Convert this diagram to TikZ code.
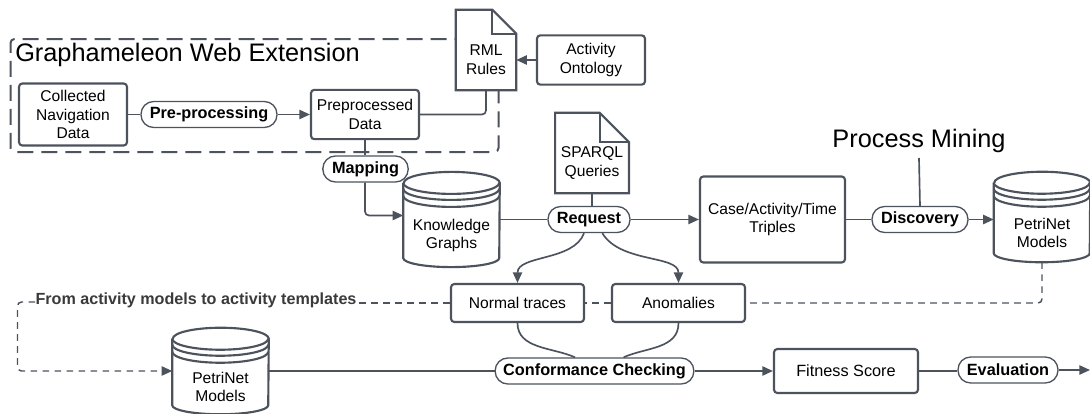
\documentclass[tikz,border=0pt]{standalone}
\usepackage{fontspec}
\setmainfont{Liberation Sans}
\usetikzlibrary{positioning,arrows.meta}
\definecolor{linecol}{HTML}{4C535D}
\definecolor{tmplcol}{HTML}{3A3A3A}

\begin{document}
\begin{tikzpicture}
        [
        x=0.75pt, y=-0.75pt,
        every node/.style={font=\fontsize{11.7}{14}\selectfont, align=center},
        boxnode/.style={draw=linecol, line width=1.6pt, rounded corners=2.5pt, fill=white, inner sep=0pt},
        pillnode/.style={draw=linecol, line width=1pt, rounded corners=9.5pt, fill=white, inner sep=0pt,
                minimum height=19.5pt, font=\fontsize{12.2}{14}\selectfont\bfseries},
        bigtext/.style={font=\fontsize{19}{22}\selectfont},
        shapeline/.style={draw=linecol, line width=1.6pt},
        docnode/.style={minimum width=#1*2.5, minimum height=60pt, inner sep=0pt,
                append after command={\pgfextra{
                \draw[shapeline, fill=white] (\tikzlastnode.north west)
                    -- ([xshift=-#1]\tikzlastnode.north east)
                    -- ([yshift=-#1]\tikzlastnode.north east)
                    -- (\tikzlastnode.south east) -- (\tikzlastnode.south west) -- cycle;
                \draw[shapeline] ([xshift=-#1]\tikzlastnode.north east)
                    -- ([xshift=-#1,yshift=-#1]\tikzlastnode.north east)
                    -- ([yshift=-#1]\tikzlastnode.north east);
                }}},
        dbnode/.style={minimum width=72pt, inner sep=0pt,
                append after command={\pgfextra{
                \draw[shapeline, fill=white] ([yshift=-8.25pt]\tikzlastnode.north west)
                    -- ([yshift=6.75pt]\tikzlastnode.south west)
                    arc[start angle=180, end angle=360, x radius=36pt, y radius=6.75pt]
                    -- ([yshift=-8.25pt]\tikzlastnode.north east)
                    arc[start angle=0, end angle=180, x radius=36pt, y radius=8.25pt];
                \draw[shapeline] ([yshift=-8.25pt]\tikzlastnode.north west)
                    arc[start angle=180, end angle=360, x radius=36pt, y radius=8.25pt];
                \draw[shapeline] ([yshift=-12.75pt]\tikzlastnode.north west)
                    arc[start angle=180, end angle=360, x radius=36pt, y radius=8.25pt];
                \draw[shapeline] ([yshift=-18pt]\tikzlastnode.north west)
                    arc[start angle=180, end angle=360, x radius=36pt, y radius=8.25pt];
                }}},
        dbtext/.style={yshift=-12pt},
        doctext/.style={yshift=-7.5pt},
        edgeline/.style={draw=linecol, line width=1.25pt, rounded corners=3pt},
        edgearrow/.style={edgeline, -{Triangle[length=8pt,width=7pt]}},
        dashline/.style={edgeline, line width=1.1pt, dash pattern=on 5pt off 4pt}
        ]
        \useasboundingbox (0,0) rectangle (1090,414);

        % Web extension frame
        \node[draw=linecol, line width=1.5pt, rounded corners=3pt, dash pattern=on 12pt off 6pt,
                minimum width=366pt, minimum height=84.75pt, inner sep=0pt] (frame) at (254.5,95.5) {};
        \node[bigtext, anchor=west, inner sep=0pt] (frametitle) at (15,55) {Graphameleon Web Extension};

        % Top row nodes
        \node[boxnode, minimum width=81pt, minimum height=46.5pt] (nav) at (73,114.5) {Collected\\Navigation\\Data};
        \node[pillnode, minimum width=102pt] (prep) at (209,114.5) {Pre-processing};
        \node[boxnode, minimum width=81pt, minimum height=37pt] (data) at (365,114.5) {Preprocessed\\Data};
        \node[docnode=18pt, label={[doctext]center:RML\\Rules}] (rml) at (486,50) {};
        \node[boxnode, minimum width=81pt, minimum height=37pt] (onto) at (591,60) {Activity\\Ontology};
        \node[pillnode, minimum width=64pt] (map) at (365.5,169) {Mapping};

        % Middle row nodes
        \node[dbnode, minimum height=71pt, label={[dbtext]center:Knowledge\\Graphs}] (kg) at (451.5,219.5) {};
        \node[docnode=22pt, label={[doctext]center:SPARQL\\Queries}] (sparql) at (592,153) {};
        \node[pillnode, minimum width=61.5pt] (req) at (589,219.5) {Request};
        \node[boxnode, minimum width=108.75pt, minimum height=64.5pt] (triples) at (772.5,219.5) {Case/Activity/Time\\Triples};
        \node[pillnode, minimum width=72pt] (disc) at (920,219.5) {Discovery};
        \node[bigtext, inner sep=0pt] (mining) at (919,141) {Process Mining};
        \node[dbnode, minimum height=67.5pt, label={[dbtext]center:PetriNet\\Models}] (modelsa) at (1042,217) {};

        % Traces
        \node[boxnode, minimum width=99.75pt, minimum height=28.5pt] (normal) at (517.5,303) {Normal traces};
        \node[boxnode, minimum width=99.75pt, minimum height=28.5pt] (anom) at (678.5,303) {Anomalies};
        \node[font=\fontsize{12.1}{14}\selectfont\bfseries, text=tmplcol, inner sep=0pt] (tmpl) at (196,300) {From activity models to activity templates};
        \coordinate (lefttop) at (17.5,302);

        % Bottom row nodes
        \node[dbnode, minimum height=64.5pt, label={[dbtext]center:PetriNet\\Models}] (modelsb) at (220.5,371) {};
        \node[pillnode, minimum width=149pt] (conf) at (594.5,371) {Conformance Checking};
        \node[boxnode, minimum width=108pt, minimum height=33pt, font=\fontsize{12.2}{14}\selectfont] (fit) at (846,371) {Fitness Score};
        \node[pillnode, minimum width=75pt] (eval) at (1008,370) {Evaluation};
        \coordinate (evalend) at (1090,370);

        % Connectors
        \draw[edgeline] (nav) -- (prep);
        \draw[edgearrow] (prep) -- (data);
        \draw[edgeline] (rml.south) |- (data.east);
        \draw[edgearrow] (onto) -- (rml.east |- onto);
        \draw[edgeline] (data.south) -- (map.north -| data.south);
        \draw[edgearrow] (map.south -| data.south) |- ([yshift=3pt]kg.west);
        \draw[edgeline] (kg.east) -- (req.west);
        \draw[edgeline] (sparql.south) -- (req.north -| sparql.south);
        \draw[edgearrow] (req) -- (triples);
        \draw[edgeline] (triples) -- (disc);
        \draw[edgeline] (mining.south |- 0,158) -- (disc.north);
        \draw[edgearrow] (disc.east) -- (modelsa.west |- disc.east);

        % Branches
        \draw[edgearrow, rounded corners=0pt] ([xshift=-3.75pt]req.south) .. controls +(-10,28) and +(0,-28) .. (normal.north);
        \draw[edgearrow, rounded corners=0pt] ([xshift=10pt]req.south) .. controls +(18,30) and +(0,-28) .. (anom.north);
        \draw[edgeline, rounded corners=0pt] (normal.south) .. controls +(0,26) and +(-22,-10) .. ([xshift=-14.6pt]conf.north);
        \draw[edgeline, rounded corners=0pt] (anom.south) .. controls +(0,26) and +(22,-10) .. ([xshift=21.8pt]conf.north);
        \draw[edgearrow] (conf) -- (fit);
        \draw[edgeline] (fit.east) -- (eval.west |- fit.east);
        \draw[edgearrow] (eval.east) -- (evalend);
        \draw[edgeline] (modelsb.east |- conf) -- (conf);

        % Dashed return path
        \draw[dashline] (modelsa.south) |- (anom.east);
        \draw[dashline] (anom.west) -- (normal.east);
        \draw[dashline] (normal.west) -- (tmpl.east |- normal.west);
        \draw[dashline, -{Triangle[length=8pt,width=7pt]}] (tmpl.west |- lefttop) -- (lefttop) |- (modelsb.west |- conf);
    \end{tikzpicture}
\end{document}
